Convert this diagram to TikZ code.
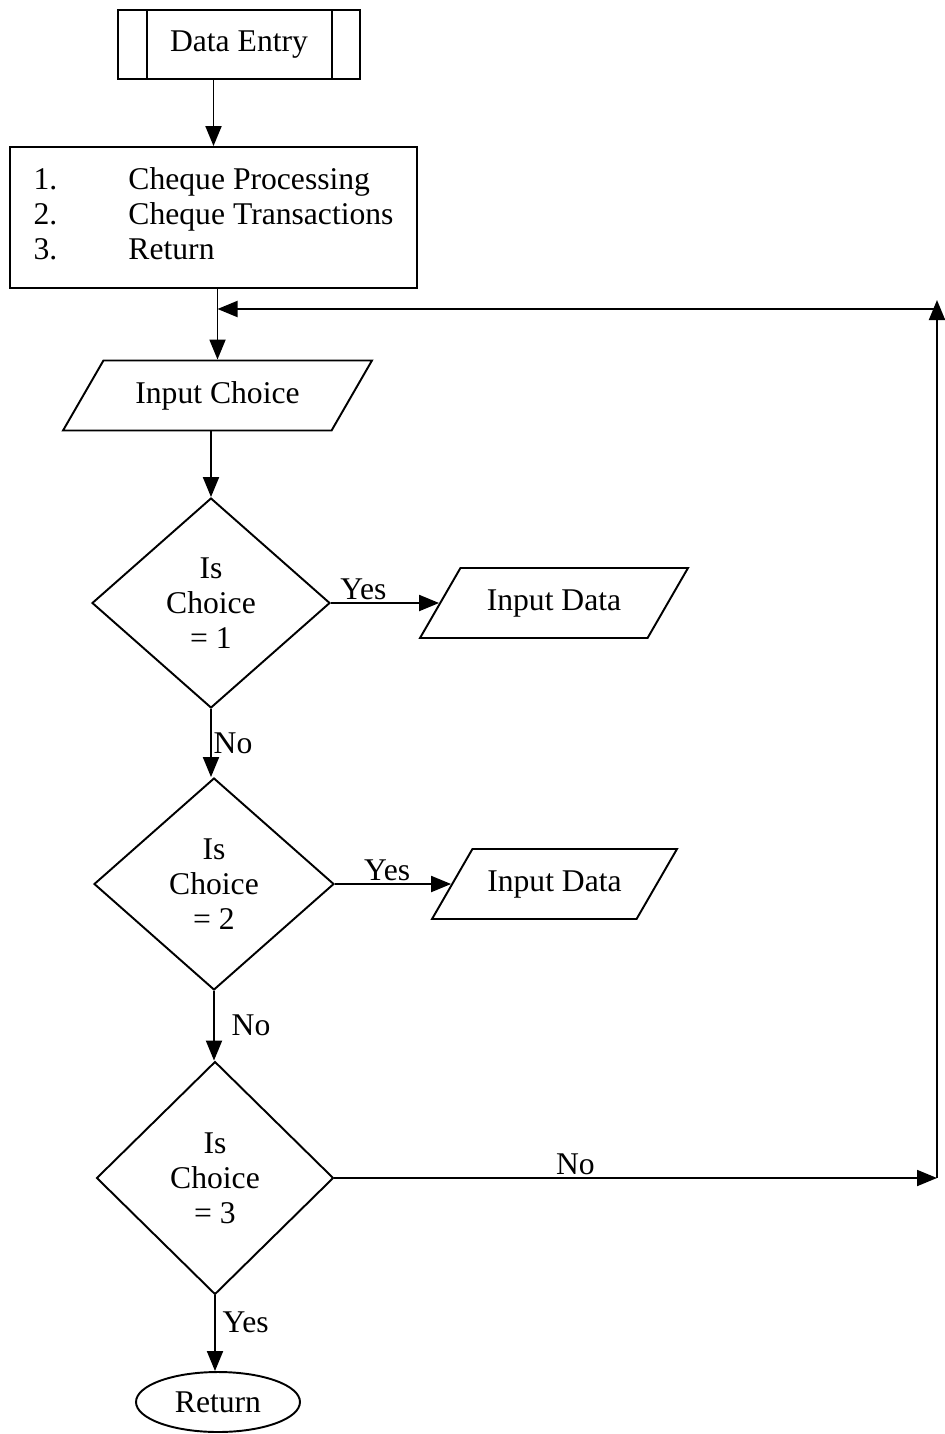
\documentclass[tikz,border=0pt]{standalone}
\usepackage{tikz}
\usepackage{fontspec}
\setmainfont{Liberation Serif}
\usetikzlibrary{shapes.geometric,arrows.meta,positioning,calc}

\begin{document}
\begin{tikzpicture}[x=0.02cm,y=-0.02cm,line width=1.1pt,
      font=\fontsize{18}{20}\selectfont,
      arr/.style={-{Triangle[length=0.4cm,width=0.32cm]}},
      io/.style={draw,trapezium,trapezium left angle=60,trapezium right angle=120,trapezium stretches body,
        text height=0.45cm,text depth=0.15cm,inner ysep=0.4cm},
      dec/.style={draw,diamond,align=center,inner sep=0pt},
      lbl/.style={inner sep=1pt}]
      \useasboundingbox (0,0) rectangle (945,1434);
      \node[draw,minimum width=4.84cm,minimum height=1.38cm] (de) at (239,44.5) {Data Entry};
      \draw ([xshift=0.6cm]de.north west) -- ([xshift=0.6cm]de.south west);
      \draw ([xshift=-0.58cm]de.north east) -- ([xshift=-0.58cm]de.south east);
      \node[draw,minimum width=8.14cm,minimum height=2.82cm] (lst) at (213.5,217.5)
        {\begin{tabular}{@{}p{1.9cm}@{}l@{}}1. & Cheque Processing\\2. & Cheque Transactions\\3. & Return\end{tabular}};
      \node[io,minimum width=6.18cm] (ic) at (217.5,395.5) {Input Choice};
      \node[dec,minimum width=4.76cm,minimum height=4.2cm] (d1) at (211,603) {Is\\Choice\\= 1};
      \node[dec,minimum width=4.8cm,minimum height=4.24cm] (d2) at (214,884) {Is\\Choice\\= 2};
      \node[dec,minimum width=4.74cm,minimum height=4.66cm] (d3) at (215,1178) {Is\\Choice\\= 3};
      \node[io,minimum width=5.36cm] (id1) at (554,603) {Input Data};
      \node[io,minimum width=4.9cm] (id2) at (554.5,884) {Input Data};
      \node[draw,ellipse,minimum width=3.28cm,minimum height=1.2cm] (ret) at (218,1402) {Return};
      \coordinate (c1) at (937,1178);
      \coordinate (c2) at (937,300);
      \coordinate (c3) at (937,309);
      \draw[arr] (de.south -| lst.north) -- (lst.north);
      \draw[arr] (lst.south -| ic.north) -- (ic.north);
      \draw[arr] (ic.south -| d1.north) -- (d1.north);
      \draw[arr] (d1.east) -- node[lbl,above,pos=0.3]{Yes} (id1.west);
      \draw[arr] (d2.east) -- node[lbl,above,pos=0.45]{Yes} (id2.west);
      \draw[arr] (d1.south) -- node[lbl,right]{No} (d1.south |- d2.north);
      \draw[arr] (d2.south) -- node[lbl,right,xshift=0.3cm]{No} (d2.south |- d3.north);
      \draw[arr] (d3.south) -- node[lbl,right,pos=0.35,xshift=0.1cm]{Yes} (d3.south |- ret.north);
      \draw[arr] (d3.east) -- node[lbl,above,pos=0.4]{No} (c1);
      \draw[arr] (c1) -- (c2);
      \draw[arr] (c3) -- (c3 -| ic.north);
\end{tikzpicture}
\end{document}
